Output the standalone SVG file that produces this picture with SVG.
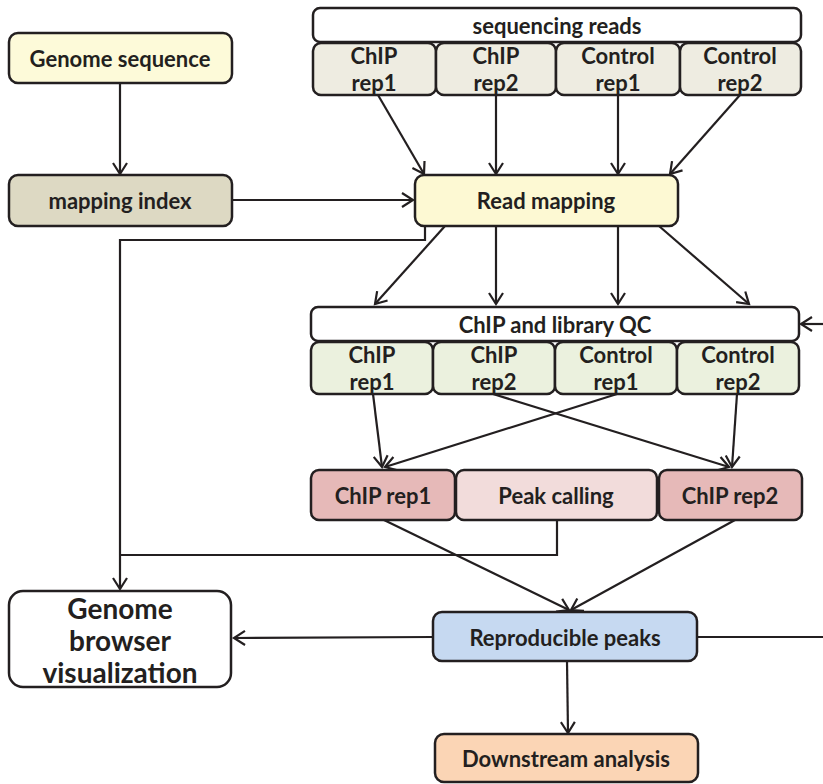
<svg xmlns="http://www.w3.org/2000/svg" width="823" height="784" viewBox="0 0 823 784">
<style>
.b{stroke:#231f20;stroke-width:2.5}
.t{font-family:Lato,"Liberation Sans",sans-serif;font-weight:700;font-size:22px;fill:#231f20;text-anchor:middle;dominant-baseline:central}
.g{font-size:28px}
.c{fill:none;stroke:#231f20;stroke-width:2.2}
.a{marker-end:url(#ar)}
</style>
<defs>
<marker id="ar" markerUnits="userSpaceOnUse" markerWidth="16" markerHeight="16" refX="12" refY="8" orient="auto">
<path d="M1,1 L12,8 L1,15" fill="none" stroke="#231f20" stroke-width="2.2"/>
</marker>
</defs>
<rect width="823" height="784" fill="#fff"/>
<g id="connectors">
<path class="c a" d="M120,83 V174"/>
<path class="c a" d="M232,200 H413"/>
<path class="c a" d="M378,95 L424,174"/>
<path class="c a" d="M496,95 V174"/>
<path class="c a" d="M618,95 V174"/>
<path class="c a" d="M740,95 L670,174"/>
<path class="c" d="M425,226 V240 H120 V555"/>
<path class="c a" d="M445,226 L375,304"/>
<path class="c a" d="M496,226 V304"/>
<path class="c a" d="M618,226 V304"/>
<path class="c a" d="M659,226 L749,304"/>
<path class="c a" d="M823,324 H801"/>
<path class="c a" d="M373,394 L382,467"/>
<path class="c a" d="M617,394 L385,467"/>
<path class="c a" d="M493,394 L729,467"/>
<path class="c a" d="M737,394 L732,467"/>
<path class="c" d="M557,520 V555 H120"/>
<path class="c a" d="M120,555 V589"/>
<path class="c a" d="M384,520 L569,610"/>
<path class="c a" d="M735,520 L571,610"/>
<path class="c a" d="M433,637 L234,638"/>
<path class="c" d="M697,637 H823"/>
<path class="c a" d="M567,661 L568,733"/>
</g>
<g id="genome-sequence"><rect class="b" x="9" y="33" width="223" height="50" rx="9" fill="#fdfad9"/><text class="t" x="120" y="58">Genome sequence</text></g>
<g id="mapping-index"><rect class="b" x="9" y="175" width="223" height="51" rx="9" fill="#ddd9c3"/><text class="t" x="120" y="200">mapping index</text></g>
<g id="sequencing-reads">
<rect class="b" x="313" y="8" width="488" height="34" rx="7" fill="#fff"/><text class="t" x="557" y="25">sequencing reads</text>
<rect class="b" x="313" y="43" width="123" height="52" rx="8" fill="#eeece1"/><text class="t" x="374" y="55">ChIP</text><text class="t" x="374" y="82">rep1</text>
<rect class="b" x="436" y="43" width="120" height="52" rx="8" fill="#eeece1"/><text class="t" x="496" y="55">ChIP</text><text class="t" x="496" y="82">rep2</text>
<rect class="b" x="556" y="43" width="124" height="52" rx="8" fill="#eeece1"/><text class="t" x="618" y="55">Control</text><text class="t" x="618" y="82">rep1</text>
<rect class="b" x="680" y="43" width="121" height="52" rx="8" fill="#eeece1"/><text class="t" x="740" y="55">Control</text><text class="t" x="740" y="82">rep2</text>
</g>
<g id="read-mapping"><rect class="b" x="415" y="175" width="263" height="51" rx="9" fill="#fdf9d3"/><text class="t" x="546" y="200">Read mapping</text></g>
<g id="qc">
<rect class="b" x="311" y="307" width="488" height="34" rx="7" fill="#fff"/><text class="t" x="555" y="324">ChIP and library QC</text>
<rect class="b" x="311" y="342" width="122" height="52" rx="8" fill="#ebf1de"/><text class="t" x="372" y="354">ChIP</text><text class="t" x="372" y="381">rep1</text>
<rect class="b" x="433" y="342" width="122" height="52" rx="8" fill="#ebf1de"/><text class="t" x="494" y="354">ChIP</text><text class="t" x="494" y="381">rep2</text>
<rect class="b" x="555" y="342" width="122" height="52" rx="8" fill="#ebf1de"/><text class="t" x="616" y="354">Control</text><text class="t" x="616" y="381">rep1</text>
<rect class="b" x="677" y="342" width="122" height="52" rx="8" fill="#ebf1de"/><text class="t" x="738" y="354">Control</text><text class="t" x="738" y="381">rep2</text>
</g>
<g id="peak-calling">
<rect class="b" x="311" y="470" width="144" height="50" rx="8" fill="#e6b9b8"/><text class="t" x="383" y="495">ChIP rep1</text>
<rect class="b" x="456" y="470" width="201" height="50" rx="8" fill="#f2dcdb"/><text class="t" x="556" y="495">Peak calling</text>
<rect class="b" x="659" y="470" width="143" height="50" rx="8" fill="#e6b9b8"/><text class="t" x="730" y="495">ChIP rep2</text>
</g>
<g id="genome-browser"><rect class="b" x="9" y="591" width="222" height="96" rx="14" fill="#fff"/>
<text class="t g" x="120" y="608">Genome</text><text class="t g" x="120" y="640">browser</text><text class="t g" x="120" y="672">visualization</text></g>
<g id="reproducible-peaks"><rect class="b" x="433" y="612" width="264" height="49" rx="9" fill="#c6d9f1"/><text class="t" x="565" y="637">Reproducible peaks</text></g>
<g id="downstream-analysis"><rect class="b" x="435" y="734" width="263" height="48" rx="9" fill="#fbd5b5"/><text class="t" x="566" y="758">Downstream analysis</text></g>
</svg>
